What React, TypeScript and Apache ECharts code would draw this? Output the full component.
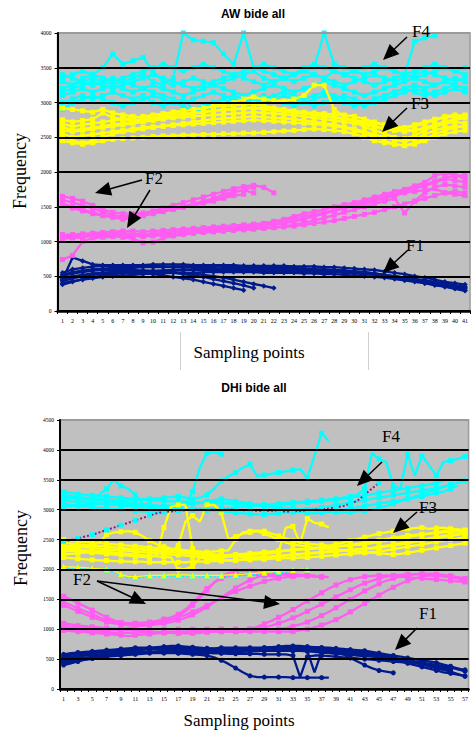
import React, { useEffect, useRef } from 'react';
import * as echarts from 'echarts';

// ---------- categories ----------
const topCats = ['1','2','3','4','5','6','7','8','9','10','11','12','13','14','15','16','17','18','19','20','21','22','23','24','25','26','27','28','29','30','31','32','33','34','35','36','37','38','39','40','41'];
const botCats = ['1','2','3','4','5','6','7','8','9','10','11','12','13','14','15','16','17','18','19','20','21','22','23','24','25','26','27','28','29','30','31','32','33','34','35','36','37','38','39','40','41','42','43','44','45','46','47','48','49','50','51','52','53','54','55','56','57'];

// ---------- AW (top) : F4 cyan ----------
const tc1 = [3300,3250,3350,3400,3500,3700,3550,3600,3650,3450,3300,3250,3300,3350,3300,3250,3300,3350,3400,3450,3350,3300,3350,3400,3450,3400,3350,3300,3250,3300,3350,3400,3350,3300,3350,3400,3450,3400,3350,3300,3350];
const tc2 = [3200,3250,3300,3250,3300,3350,3300,3350,3400,3300,3250,3350,4000,3900,3880,3860,3700,3550,4000,3500,3450,3400,3350,3300,3350,3400,3350,3450,3400,3350,3300,3250,3300,3350,3400,3880,3930,3960];
const tc3 = [3150,3200,3250,3300,3250,3200,3250,3300,3350,3400,3350,3300,3250,3200,3250,3300,3350,3400,3450,3500,3550,3500,3450,3400,3450,3500,4000,3550,3500,3450,3400,3450,3500,3450,3400,3350,3400,3450,3500,3450,3400];
const tc4 = [3000,3050,3100,3050,3100,3150,3100,3050,3100,3000,2950,3000,3050,2900,2950,3000,3050,3100,3050,3000,3050,3100,3150,3100,3050,3100,3150,3100,3050,3000,2950,3000,3050,3100,3150,3200,3150,3100,3150,3200,3150];
const tc5 = [3400,3350,3300,3350,3300,3250,3200,3150,3200,3250,3200,3150,3100,3150,3200,3250,3200,3150,3100,3150,3200,3250,3200,3150,3200,3250,3300,3250,3200,3150,3100,3150,3200,3250,3300,3350,3300,3250,3300,3350,3300];
const tc6 = [3100,3150,3200,3150,3200,3250,3300,3250,3200,3150,3100,3050,3000,3050,3100,3150,3100,3050,3000,3050,3100,3050,3000,2950,3000,3050,3100,3050,3000,2950,3000,3050,3100,3150,3200,3250,3200,3250,3300,3250,3200];
const tc7 = [3350,3400,3450,3400,3350,3300,3350,3400,3450,3500,3550,3500,3450,3500,3550,3500,3450,3400,3350,3300,3250,3300,3350,3400,3500,3550,3500,3450,3400,3450,3500,3550,3500,3450,3400,3450,3500,3550,3500,3450,3500];
const tc8 = [2900,3000,3050,3100,3050,3000,2950,3000,3050,3100,3050,3000,2950,2850,2900,2950,3000,3050,3000,2950,3000,3050,3100,3050,3000,2950,3000,3050,3100,3050,3000,3050,3100,3150,3200,3150,3100,3150,3200,3250,3200];

// ---------- AW : F3 yellow ----------
const ty1 = [2920,2900,2880,2860,2900,2850,2820,2800,2780,2800,2830,2860,2880,2900,2920,2950,2980,3000,3050,3080,3050,3030,3020,3050,3100,3250,3250,2900,2800,2720,2650,2600,2550,2500,2480,2520,2600,2680,2720,2750,2780];
const ty2 = [2700,2650,2680,2700,2720,2740,2760,2780,2800,2820,2840,2860,2880,2900,2920,2940,2950,2960,2970,2980,2950,2920,2900,2880,2860,2850,2840,2830,2820,2800,2760,2720,2680,2650,2640,2660,2700,2750,2800,2820,2800];
const ty3 = [2600,2580,2600,2620,2640,2660,2680,2700,2720,2740,2760,2780,2790,2800,2810,2820,2830,2840,2850,2860,2850,2840,2830,2820,2800,2780,2760,2740,2720,2700,2680,2650,2620,2600,2580,2600,2620,2650,2700,2720,2700];
const ty4 = [2500,2450,2420,2450,2500,2550,2580,2600,2620,2640,2660,2680,2700,2720,2740,2760,2770,2780,2790,2800,2790,2780,2770,2760,2740,2720,2700,2680,2650,2620,2580,2540,2500,2460,2440,2480,2540,2600,2640,2660,2650];
const ty5 = [2650,2600,2620,2640,2660,2680,2700,2720,2740,2760,2780,2800,2820,2840,2860,2880,2900,2910,2920,2930,2920,2900,2880,2860,2840,2820,2800,2780,2760,2740,2700,2660,2620,2600,2640,2680,2720,2760,2780,2800,2820];
const ty6 = [2550,2500,2520,2540,2560,2580,2600,2620,2640,2650,2660,2670,2680,2690,2700,2710,2720,2730,2740,2750,2740,2730,2720,2710,2700,2690,2680,2660,2640,2600,2560,2500,2450,2400,2380,2420,2480,2540,2600,2640,2660];
const ty7 = [2750,2720,2740,2760,2850,2780,2760,2740,2760,2780,2800,2820,2840,2850,2870,2880,2890,2900,2910,2920,2900,2880,2870,2860,2850,2830,2810,2790,2770,2750,2720,2700,2680,2650,2620,2600,2640,2680,2720,2760,2800];
const ty8 = [2450,2420,2400,2420,2450,2470,2480,2490,2500,2510,2520,2520,2530,2530,2540,2540,2550,2550,2560,2560,2570,2580,2590,2600,2610,2620,2610,2600,2580,2550,2500,2450,2420,2400,2380,2400,2450,2500,2550,2580,2600];

// ---------- AW : F2 magenta ----------
const tm1 = [1650,1620,1580,1520,1460,1420,1400,1400,1410,1440,1480,1520,1560,1600,1640,1680,1720,1760,1790,1810,1780,1700];
const tm2 = [1600,1560,1520,1480,1420,1380,1360,1370,1390,1420,1450,1480,1510,1540,1580,1620,1680,1720,1740,1700];
const tm3 = [1550,1500,1460,1420,1380,1350,1320,1340,1370,1400,1430,1460,1490,1520,1550,1580,1620,1660,1680];
const tm4 = [1520,1480,1440,1400,1370,1350,1340,1350,1380,1410,1440,1470,1500,1530,1560,1600,1640,1700,1750,1780];
const tm5 = [1050,1060,1080,1090,1100,1110,1100,1090,1080,1100,1120,1130,1140,1150,1160,1170,1180,1190,1200,1210,1220,1240,1260,1290,1320,1360,1400,1440,1480,1520,1560,1600,1640,1680,1720,1760,1800,1850,1900,1880,1850];
const tm6 = [1080,1090,1100,1110,1120,1130,1120,1110,1100,1110,1120,1140,1150,1160,1180,1190,1200,1210,1220,1240,1260,1290,1320,1360,1400,1430,1460,1500,1530,1560,1600,1640,1680,1720,1750,1800,1850,1950,1980,1960,1900];
const tm7 = [1040,1050,1060,1080,1090,1080,1060,1040,980,990,1050,1080,1100,1120,1130,1140,1150,1160,1170,1180,1190,1200,1220,1240,1270,1300,1340,1380,1420,1460,1500,1540,1580,1620,1410,1580,1700,1780,1820,1800,1780];
const tm8 = [740,800,1000,1050,1060,1070,1080,1090,1100,1110,1120,1130,1140,1150,1160,1170,1180,1200,1210,1220,1230,1250,1270,1300,1330,1370,1410,1450,1490,1530,1570,1610,1650,1690,1730,1770,1820,1870,1920,1940,1960];
const tm9 = [1100,1100,1110,1120,1130,1140,1150,1150,1140,1150,1160,1170,1180,1190,1200,1210,1220,1230,1240,1250,1260,1280,1300,1330,1360,1390,1420,1450,1480,1510,1540,1580,1620,1660,1700,1720,1740,1760,1700,1680,1660];
const tm10 = [1060,1070,1080,1080,1090,1090,1090,1080,1070,1080,1090,1100,1110,1120,1130,1140,1150,1160,1170,1180,1190,1200,1210,1220,1240,1260,1280,1300,1330,1360,1390,1420,1460,1500,1540,1580,1620,1660,1700,1720,1700];

// ---------- AW : F1 navy ----------
const tb1 = [450,770,720,670,660,660,660,660,660,670,670,670,670,660,660,660,660,660,650,650,650,650,650,640,640,640,630,630,620,610,600,590,570,550,530,500,480,450,420,400,380];
const tb2 = [520,560,580,600,610,620,620,620,630,630,630,630,640,640,640,640,640,630,630,630,630,620,620,620,610,600,600,590,580,570,560,540,520,500,480,460,440,420,400,370,350];
const tb3 = [430,470,500,520,540,550,560,570,580,580,580,590,590,590,590,590,590,590,590,590,590,590,590,580,580,580,570,570,560,550,540,530,510,500,480,460,440,410,380,350,320];
const tb4 = [400,430,450,470,490,500,510,520,530,540,540,550,550,550,560,560,560,560,560,560,550,550,550,550,540,540,530,530,520,510,500,490,480,460,440,420,400,380,350,320,290];
const tb5 = [550,600,620,640,650,650,650,650,650,650,640,640,640,630,620,610,600,590,580,570,560,560,560,560,560,560,560,560,550,540,530,520,500,480,460,440,420,400,380,360,340];
const tb6 = [470,500,520,540,550,560,560,550,540,530,510,490,470,450,420,390,360,330,300];
const tb7 = [500,540,560,580,590,590,590,590,580,570,560,550,530,510,490,460,430,400,370,330];
const tb8 = [440,480,510,530,550,560,570,570,570,570,570,560,550,540,520,500,480,450,420,390,360,330];
const tb9 = [380,420,460,490,510,530,540,550,560,570,580,590,600,600,610,610,610,610,610,610,610,610,600,600,600,600,590,590,580,570,560,540,520,490,460,430,400,370,350,330,300];

// ---------- DHi (bottom) : F4 cyan ----------
const bc1 = [3300,3280,3260,3250,3240,3230,3220,3210,3200,3190,3180,3170,3160,3150,3150,3140,3140,3130,3130,3120,3120,3110,3110,3100,3100,3100,3090,3090,3080,3080,3080,3090,3100,3110,3120,3130,3140,3150,3160,3180,3200,3220,3240,3260,3280,3300,3320,3340,3360,3380,3400,3420,3450,3480];
const bc2 = [3200,3220,3200,3180,3200,3250,3350,3500,3400,3350,3250,3100,3050,3000,3020,3040,3060,3080,3100,3120,3140,3160,3180,3160,3140,3120,3100,3080,3060,3040,3020,3000,2980,2960,2950,2940,2950,2960,2980,3000,3020,3040,3060,3080,3100,3120,3140,3160,3180,3200,3220,3250,3280,3300,3350,3400];
const bc3 = [3150,3140,3130,3120,3110,3100,3090,3080,3070,3060,3050,3040,3040,3040,3050,3060,3070,3080,3300,3700,3950,3960,3930];
const bc4 = [3250,3230,3210,3200,3190,3180,3170,3160,3150,3150,3160,3170,3180,3190,3200,3210,3220,3200,3180,3200,3250,3350,3480,3560,3620,3700,3760,3560,3580,3600,3620,3640,3660,3680,3530,3900,4280,4150];
const bc5 = [3050,3060,3070,3080,3090,3100,3100,3100,3090,3080,3070,3060,3050,3040,3030,3020,3010,3000,3000,3000,3000,3010,3020,3030,3040,3050,3060,3070,3080,3090,3100,3110,3120,3130,3140,3150,3160,3170,3180,3200,3220,3250,3350,3950,3850,3800,3400,3350,3930,3570,3900,3740,3570,3800,3820,3850,3890];
const bc6 = [3100,3080,3060,3050,3040,3030,3020,3010,3000,2990,2980,2970,2960,2960,2970,2980,2990,3000,3000,3000,2990,2980,2970,2960,2950,2940,2930,2920,2920,2930,2940,2950,2960,2980,3000,3020,3040,3060,3080,3100,3120,3140,3160,3180,3200,3220,3240,3260,3280,3300,3320,3340,3360,3380,3410];
const bc7 = [3200,3190,3180,3170,3160,3150,3140,3130,3120,3110,3100,3090,3080,3070,3060,3070,3080,3090,3100,3110,3120,3130,3120,3110,3100,3090,3080,3070,3060,3050,3040,3030,3020,3010,3000,2990,2980,2970,2960,2950,2960,2970,2980,3000,3030,3060,3100,3140,3180,3220,3260,3300,3340,3380,3420,3450,3480];
const bPurple = [2470,2490,2520,2550,2580,2620,2660,2700,2740,2780,2820,2860,2900,2940,2960,2970,2980,2990,3000,3000,3000,3000,3000,3000,3000,2990,2990,2980,2980,2980,2980,2970,2970,2980,2990,3000,3010,3020,3040,3060,3100,3150,3250,3350,3450];
const bCyanDot = [2030,2020,2020,2010,2000,1990,1980,1960,1900,1860,1860,1870,1880,1880,1880,1890,1890,1890,1880,1880,1880,1880,1880,1890,1890,1900,1910,1920,1930,1940,1950,1960,1970,1980,1990];

// ---------- DHi : F3 yellow ----------
const bTri = [2050,2040,2040,2030,2020,2010,2000,1980,1920,1880,1880,1890,1900,1900,1900,1910,1910,1910,1900,1900,1900,1900,1900,1910,1910,1920,1930,1940,1950,1960,1970,1980,1990,2000,2000];
const be1 = [2450,2430,2420,2410,2400,2390,2380,2370,2360,2350,2340,2330,2320,2310,2300,2290,2280,2270,2260,2250,2240,2230,2230,2230,2240,2250,2260,2270,2280,2290,2300,2310,2320,2330,2340,2350,2360,2370,2380,2390,2400,2410,2420,2440,2460,2480,2500,2520,2540,2560,2580,2600,2620,2640,2650,2660,2650];
const be2 = [2350,2360,2370,2380,2400,2450,2580,2620,2630,2640,2620,2560,2480,2420,2380,2350,2320,2300,2280,2270,2260,2250,2240,2230,2220,2210,2200,2200,2210,2220,2230,2240,2250,2260,2270,2280,2290,2300,2310,2320,2330,2340,2350,2360,2380,2400,2420,2440,2460,2480,2500,2520,2540,2560,2580,2600,2620];
const be3 = [2300,2310,2300,2290,2280,2270,2260,2250,2240,2230,2220,2210,2200,2250,2700,3050,3080,3080,2350,2200,2180,2170,2160,2150,2160,2170,2180,2190,2200,2210,2220,2230,2240,2250,2260,2270,2280,2290,2300,2310,2320,2330,2340,2350,2360,2380,2400,2420,2440,2460,2480,2500,2520,2540,2560,2580,2600];
const be4 = [2250,2260,2270,2280,2290,2300,2310,2320,2330,2340,2350,2340,2330,2320,2310,2300,2400,2800,2900,2800,3080,3080,2950,2500,2550,2600,2620,2640,2600,2550,2500,2450,2420,2400,2380,2360,2350,2340,2330,2320,2310,2300,2290,2280,2270,2260,2250,2260,2280,2300,2320,2340,2360,2380,2400,2420,2440];
const be5 = [2400,2390,2380,2370,2360,2350,2340,2330,2320,2310,2300,2290,2280,2270,2260,2250,2240,2230,2220,2210,2200,2190,2200,2210,2220,2230,2240,2250,2260,2270,2300,2700,2720,2430,2850,2780,2760,2700];
const be6 = [2200,2190,2180,2170,2160,2150,2150,2140,2140,2130,2130,2130,2120,2120,2120,2120,2120,2120,2130,2130,2130,2140,2140,2150,2150,2160,2160,2170,2170,2180,2180,2190,2190,2200,2200,2210,2220,2230,2240,2250,2260,2270,2280,2290,2300,2320,2340,2360,2380,2400,2420,2440,2460,2480,2500,2520,2540];
const be7 = [2500,2480,2470,2460,2450,2440,2430,2420,2410,2400,2390,2380,2370,2360,2350,2340,2330,2320,2310,2300,2290,2300,2310,2320,2500,2620,2640,2650,2640,2600,2560,2520,2480,2450,2430,2420,2410,2400,2420,2450,2480,2510,2540,2570,2600,2620,2640,2660,2680,2690,2700,2680,2690,2700,2680,2670,2660];
const be8 = [2350,2340,2330,2320,2310,2300,2290,2280,2270,2260,2250,2240,2230,2220,2210,2200,2000,2010,2050,2200,2210,2220,2230,2240,2250,2260,2270,2280,2290,2300,2310,2320,2330,2340,2350,2360,2370,2380,2390,2400,2410,2430,2450,2470,2490,2510,2530,2550,2570,2580,2590,2600,2610,2620,2630,2640,2650];

// ---------- DHi : F2 magenta ----------
const bm1 = [1550,1500,1440,1380,1320,1260,1200,1150,1110,1090,1080,1080,1090,1110,1140,1180,1230,1300,1400,1520,1650,1780,1880,1940,1970,1980,1970,1950,1940,1930,1920,1910,1900,1900,1890,1880,1870];
const bm2 = [1450,1400,1350,1300,1250,1200,1160,1130,1110,1100,1100,1110,1120,1140,1170,1200,1250,1330,1440,1560,1680,1780,1850,1890,1910,1920,1920,1910,1900,1890,1880];
const bm3 = [1400,1350,1300,1250,1200,1160,1120,1100,1080,1070,1060,1060,1070,1080,1100,1120,1150,1190,1240,1300,1370,1450,1530,1610,1690,1760,1820,1870,1900,1920,1930,1930,1920,1910,1900,1890,1880,1870];
const bm4 = [1000,990,980,970,960,950,950,940,940,940,940,950,950,950,950,960,960,960,970,970,980,990,1000,1000,1000,1000,1000,1010,1030,1060,1100,1140,1190,1240,1300,1360,1420,1480,1540,1600,1660,1720,1770,1810,1850,1880,1900,1910,1920,1920,1910,1900,1890,1880,1870,1850,1800];
const bm5 = [1050,1040,1030,1020,1010,1000,990,990,990,990,990,1000,1000,1000,1000,1000,1000,1000,1000,1000,1000,1000,1000,1000,1000,1000,1000,1000,1000,1000,1000,1020,1050,1080,1120,1170,1230,1290,1360,1430,1500,1570,1640,1700,1760,1810,1850,1880,1900,1920,1930,1930,1920,1910,1890,1860,1820];
const bm6 = [980,970,960,950,940,930,920,910,900,880,900,910,920,930,940,940,950,950,960,960,960,960,960,960,960,960,960,960,960,960,960,960,960,980,1000,1030,1070,1110,1160,1220,1290,1360,1430,1500,1570,1640,1700,1760,1810,1850,1880,1900,1910,1900,1890,1870,1850];
const bm7 = [1100,1080,1060,1050,1040,1030,1020,1010,1000,990,980,970,960,950,940,940,930,930,930,940,950,960,960,960,960,960,1000,1040,1090,1140,1200,1260,1330,1400,1470,1540,1610,1680,1740,1790,1830,1860,1880,1890,1900,1900,1890,1880,1870,1860,1850,1840,1830,1820,1810,1800,1790];
const bm8 = [1020,1010,1000,990,990,990,990,1000,1010,1020,1040,1060,1080,1100,1130,1160,1200,1240,1290,1340,1400,1460,1520,1580,1630,1680,1720,1760,1800,1830,1850,1870,1880,1890,1900,1900];

// ---------- DHi : F1 navy ----------
const bb1 = [520,540,560,580,600,610,620,630,640,650,660,660,670,670,670,680,680,680,680,680,680,680,690,690,690,690,690,690,690,700,700,700,700,700,700,700,690,690,680,670,660,650,640,620,600,580,560,540,520,500,480,460,440,410,380,340,300];
const bb2 = [450,470,490,510,530,550,560,570,580,590,600,610,620,620,630,630,640,640,640,650,650,650,650,660,660,660,670,670,670,680,680,680,690,690,690,680,680,670,660,650,640,630,610,590,570,550,530,500,470,440,410,380,350,320,290,250,210];
const bb3 = [580,600,610,620,630,640,650,660,670,680,690,690,690,680,670,660,650,640,630,620,610,600,600,600,610,620,630,640,640,650,650,650,640,640,630,620,610,600,590,580,570,560,550,540,530,520,510,490,470,450,430,410,390,370,350];
const bb4 = [500,520,540,560,570,580,590,600,610,620,620,620,620,620,620,610,600,590,580,570,560,530,480,420,350,280,220,200,200,200,200,200,190,190,190,190,190,190];
const bb5 = [430,450,470,490,510,530,540,550,560,570,580,590,600,600,600,600,600,600,600,600,600,600,600,590,590,590,590,590,580,580,580,580,560,200,540,560,560,550,540,530,520,510,500,490,480,470,460,450,440,430,420,410,400,380,360,330,300];
const bb6 = [480,500,510,520,530,540,550,560,570,580,590,600,610,620,630,640,650,650,650,650,650,650,650,650,650,650,650,650,650,650,650,650,650,640,640,280,620,620,610,600,590,580,570,560,550,540,520,500,480,460,440,420,400,380,360,340,320];
const bb7 = [400,430,460,490,510,530,550,570,590,600,610,620,620,630,630,630,640,640,640,640,640,640,640,640,640,640,640,640,640,640,640,640,640,640,640,640,640,640,630,580,520,460,400,350,310,290,270];
const bb8 = [550,570,590,600,610,620,630,640,650,660,670,680,690,700,710,720,720,710,700,690,680,670,660,650,650,650,650,660,660,660,660,660,660,660,660,650,650,640,630,620,610,600,590,570,550,530,510,490,470,450,420,390,360,340,320];
const bb9 = [460,480,500,520,540,560,580,600,620,640,650,660,670,680,690,700,700,700,690,680,670,660,650,650,650,660,670,680,690,700,710,720,720,720,710,700,690,680,670,650,630,610,590,570,550,520,490,460,430,400,370,340,310,280,260,240,220];

// ---------- colours ----------
const CYAN = '#00ffff';
const YELLOW = '#ffff00';
const MAGENTA = '#ff5cf2';
const NAVY = '#001a8c';
const PURPLE = '#8a1a8a';

function ln(data: (number | null)[], color: string, ax: number, opts: any = {}) {
  return {
    type: 'line',
    xAxisIndex: ax,
    yAxisIndex: ax,
    data,
    silent: true,
    symbol: opts.symbol || 'rect',
    symbolSize: opts.size || 5,
    showSymbol: true,
    lineStyle: { color: opts.lineColor || color, width: opts.width || 2.3, type: opts.dash || 'solid' },
    itemStyle: { color },
    z: opts.z || 2,
  };
}

function arrow(x1: number, y1: number, x2: number, y2: number, len = 16, hw = 7) {
  const dx = x2 - x1, dy = y2 - y1;
  const L = Math.hypot(dx, dy);
  const ux = dx / L, uy = dy / L;
  const bx = x2 - ux * len, by = y2 - uy * len;
  const px = -uy * hw, py = ux * hw;
  return [
    { type: 'line', z: 100, shape: { x1, y1, x2: bx + ux * 2, y2: by + uy * 2 }, style: { stroke: '#000', lineWidth: 1.5 } },
    { type: 'polygon', z: 100, shape: { points: [[x2, y2], [bx + px, by + py], [bx - px, by - py]] }, style: { fill: '#000' } },
  ];
}

function txt(text: string, x: number, y: number, font: string, rotation = 0) {
  return {
    type: 'text', z: 100, x, y, rotation,
    style: { text, font, fill: '#000', align: 'center', verticalAlign: 'middle' },
  };
}

const SERIF = '"Liberation Serif", "DejaVu Serif", serif';

export default function App() {
  const ref = useRef<HTMLDivElement>(null);
  useEffect(() => {
    if (!ref.current) return;
    const chart = echarts.init(ref.current, undefined, { renderer: 'svg' });

    const xAxisBase = (cats: string[], gi: number, interval: number) => ({
      type: 'category',
      gridIndex: gi,
      data: cats,
      boundaryGap: true,
      axisLine: { show: true, lineStyle: { color: '#000', width: 2.5 } },
      axisTick: { show: true, length: 3, interval: 0, lineStyle: { color: '#000', width: 1 } },
      axisLabel: { interval, fontSize: 6, margin: 7, color: '#000', fontFamily: SERIF },
      splitLine: { show: false },
      z: 5,
    });
    const yAxisBase = (gi: number, max: number, n: number) => {
      const cols: string[] = [];
      for (let k = 0; k < n - 1; k++) cols.push('#000');
      cols.push('#9a9a9a');
      return {
        type: 'value',
        gridIndex: gi,
        min: 0,
        max,
        interval: 500,
        axisLine: { show: true, lineStyle: { color: '#000', width: 2 } },
        axisTick: { show: true, length: 3, lineStyle: { color: '#000', width: 1 } },
        axisLabel: { fontSize: 5.5, margin: 6, color: '#000', fontFamily: SERIF, formatter: (v: number) => String(v) },
        splitLine: { show: true, lineStyle: { color: cols, width: 2 } },
        z: 5,
      };
    };

    const series: any[] = [];
    // top panel
    [tb1, tb2, tb3, tb4, tb5, tb6, tb7, tb8, tb9].forEach((d) => series.push(ln(d, NAVY, 0, { symbol: 'diamond', size: 5.5 })));
    [tm1, tm2, tm3, tm4, tm5, tm6, tm7, tm8, tm9, tm10].forEach((d) => series.push(ln(d, MAGENTA, 0)));
    [tc1, tc2, tc3, tc4, tc5, tc6, tc7, tc8].forEach((d) => series.push(ln(d, CYAN, 0)));
    [ty1, ty2, ty3, ty4, ty5, ty6, ty7, ty8].forEach((d) => series.push(ln(d, YELLOW, 0, { z: 3 })));
    // bottom panel
    [bb1, bb2, bb3, bb4, bb5, bb6, bb7, bb8, bb9].forEach((d) => series.push(ln(d, NAVY, 1, { symbol: 'circle', size: 5 })));
    [bm1, bm2, bm3, bm4, bm5, bm6, bm7, bm8].forEach((d) => series.push(ln(d, MAGENTA, 1)));
    [bc1, bc2, bc3, bc4, bc5, bc6, bc7].forEach((d) => series.push(ln(d, CYAN, 1)));
    series.push(ln(bPurple, CYAN, 1, { lineColor: PURPLE, dash: 'dotted', width: 2, z: 4 }));
    series.push(ln(bCyanDot, CYAN, 1, { dash: 'dotted', width: 2, z: 3 }));
    [be1, be2, be3, be4, be5, be6, be7, be8].forEach((d) => series.push(ln(d, YELLOW, 1, { z: 3 })));
    series.push(ln(bTri, YELLOW, 1, { symbol: 'triangle', size: 6, z: 4, width: 1.2 }));

    const graphic: any[] = [
      txt('AW bide all', 253, 14, 'bold 12px "Liberation Sans", Arial, sans-serif'),
      txt('DHi bide all', 254, 388, 'bold 12px "Liberation Sans", Arial, sans-serif'),
      txt('Frequency', 20, 171, `18px ${SERIF}`, Math.PI / 2),
      txt('Frequency', 21, 548, `18px ${SERIF}`, Math.PI / 2),
      txt('Sampling points', 249, 352, `17px ${SERIF}`),
      txt('Sampling points', 239, 720, `17px ${SERIF}`),
      { type: 'line', z: 100, shape: { x1: 180.5, y1: 332, x2: 180.5, y2: 370 }, style: { stroke: '#d0d0d0', lineWidth: 1 } },
      { type: 'line', z: 100, shape: { x1: 368.5, y1: 332, x2: 368.5, y2: 370 }, style: { stroke: '#d0d0d0', lineWidth: 1 } },
      txt('F4', 421, 31, `17px ${SERIF}`),
      txt('F3', 420, 103, `17px ${SERIF}`),
      txt('F2', 154, 178, `17px ${SERIF}`),
      txt('F1', 415, 245, `17px ${SERIF}`),
      txt('F4', 391, 436, `17px ${SERIF}`),
      txt('F3', 428, 507, `17px ${SERIF}`),
      txt('F2', 82, 579, `17px ${SERIF}`),
      txt('F1', 428, 613, `17px ${SERIF}`),
      ...arrow(407, 37, 383, 60),
      ...arrow(407, 108, 382, 132),
      ...arrow(142, 180, 95, 193),
      ...arrow(150, 190, 127, 228),
      ...arrow(408, 250, 383, 273),
      ...arrow(382, 462, 357, 486),
      ...arrow(417, 512, 393, 533),
      ...arrow(97, 581, 146, 604),
      ...arrow(97, 581, 280, 604),
      ...arrow(417, 628, 395, 650),
    ];

    chart.setOption({
      animation: false,
      backgroundColor: '#ffffff',
      grid: [
        { left: 57.5, top: 33, width: 413.5, height: 278, show: true, backgroundColor: '#c0c0c0', borderColor: '#9a9a9a', borderWidth: 1.5 },
        { left: 60, top: 420, width: 410, height: 269, show: true, backgroundColor: '#c0c0c0', borderColor: '#9a9a9a', borderWidth: 1.5 },
      ],
      xAxis: [xAxisBase(topCats, 0, 0), xAxisBase(botCats, 1, 1)],
      yAxis: [yAxisBase(0, 4000, 9), yAxisBase(1, 4500, 10)],
      series,
      graphic,
    });
    return () => chart.dispose();
  }, []);
  return <div ref={ref} style={{ position: 'fixed', left: 0, top: 0, width: 471, height: 731 }} />;
}
